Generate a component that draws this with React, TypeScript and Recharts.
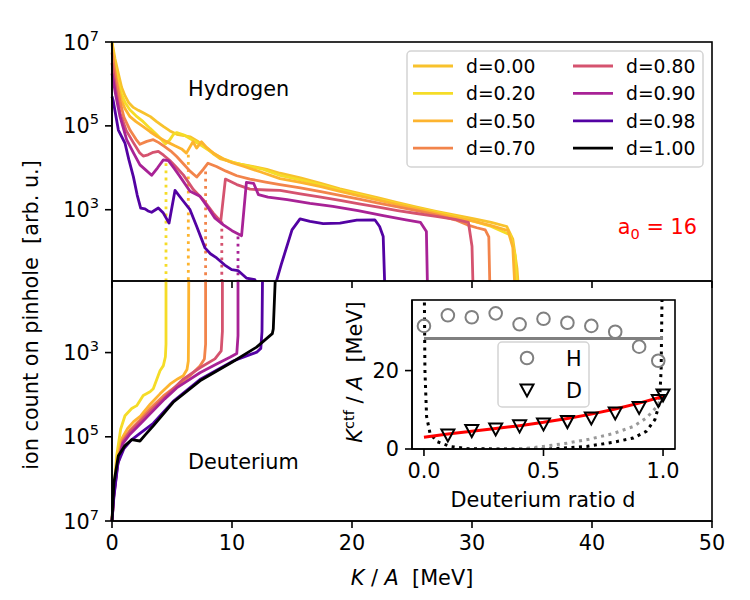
import React from 'react';
import { LineChart, Line, XAxis, YAxis, ComposedChart, Scatter } from 'recharts';

type Pt = [number, number];

// deuterium ratio of each run
const ratioLabels = ['d=0.00', 'd=0.20', 'd=0.50', 'd=0.70', 'd=0.80', 'd=0.90', 'd=0.98', 'd=1.00'];
const ratioColors = ['#f8c22c', '#f5dc27', '#fdb42f', '#f2844b', '#d5536f', '#a82296', '#5302a3', '#000000'];

const kTicks = [0, 10, 20, 30, 40, 50];
const logTicks = [3, 5, 7];

// hydrogen spectra: [K/A in MeV, log10 of ion count]
const hD000: Pt[] = [[0, 7.0], [0.25, 6.6], [0.53, 6.25], [0.8, 5.92], [1.08, 5.72], [1.4, 5.55], [1.78, 5.44], [2.2, 5.37], [2.6, 5.31], [3.2, 5.22], [3.72, 5.1], [4.3, 4.98], [4.83, 4.88], [5.4, 4.8], [6.0, 4.77], [6.5, 4.74], [7.2, 4.62], [7.9, 4.47], [8.5, 4.32], [9.0, 4.22], [9.8, 4.15], [10.7, 4.09], [11.8, 4.03], [12.9, 3.96], [14, 3.87], [15.7, 3.76], [17.4, 3.63], [19, 3.5], [20.6, 3.39], [22.2, 3.28], [23.8, 3.17], [25.4, 3.06], [27, 2.96], [28.6, 2.87], [30.2, 2.78], [31.6, 2.7], [32.9, 2.6], [33.4, 2.3], [33.75, 1.6], [33.9, 1.0]];
const hD020: Pt[] = [[0, 7.0], [0.2, 6.5], [0.5, 6.05], [0.8, 5.75], [1.1, 5.55], [1.5, 5.38], [2.0, 5.24], [2.6, 5.1], [3.17, 4.94], [3.7, 4.8], [4.1, 4.68], [4.45, 4.57], [4.8, 4.66], [5.1, 4.79], [5.4, 4.84], [6.0, 4.78], [6.6, 4.68], [7.3, 4.56], [8.0, 4.43], [8.7, 4.3], [9.4, 4.2], [10.2, 4.12], [11.2, 4.05], [12.5, 3.97], [14, 3.82], [15.7, 3.71], [17.4, 3.59], [19, 3.47], [20.6, 3.36], [22.2, 3.25], [23.8, 3.14], [25.4, 3.04], [27, 2.94], [28.6, 2.84], [30.2, 2.72], [31.6, 2.6], [33.2, 2.4], [33.6, 1.9], [33.75, 1.0]];
const hD050: Pt[] = [[0, 6.95], [0.2, 6.4], [0.5, 5.95], [0.8, 5.6], [1.1, 5.4], [1.5, 5.22], [2.0, 5.1], [2.6, 4.98], [3.17, 4.86], [3.8, 4.74], [4.5, 4.63], [5.2, 4.53], [5.8, 4.45], [6.2, 4.35], [6.5, 4.5], [6.75, 4.62], [7.05, 4.47], [7.45, 4.62], [7.9, 4.48], [8.5, 4.34], [9.2, 4.22], [10, 4.12], [11, 4.03], [12.4, 3.9], [14, 3.74], [15.7, 3.65], [17.4, 3.55], [19, 3.44], [20.6, 3.33], [22.2, 3.23], [23.8, 3.12], [25.4, 3.02], [27, 2.92], [28.6, 2.82], [30.2, 2.72], [31.6, 2.62], [33.0, 2.5], [33.4, 2.1], [33.6, 1.0]];
const hD070: Pt[] = [[0, 6.75], [0.3, 6.15], [0.67, 5.58], [1.0, 5.2], [1.5, 4.9], [2.0, 4.68], [2.33, 4.56], [2.9, 4.63], [3.44, 4.67], [3.9, 4.6], [4.42, 4.5], [4.9, 4.4], [5.39, 4.27], [6.0, 4.08], [6.5, 3.92], [7.06, 3.78], [7.6, 3.96], [8.0, 4.11], [8.7, 4.03], [9.5, 3.92], [10.4, 3.81], [11.5, 3.73], [12.8, 3.66], [14, 3.6], [15.7, 3.52], [17.4, 3.43], [19, 3.34], [20.6, 3.25], [22.2, 3.16], [23.8, 3.07], [25.4, 2.98], [27, 2.88], [28.6, 2.76], [29.6, 2.64], [30.4, 2.57], [31.1, 2.52], [31.4, 2.35], [31.5, 1.0]];
const hD080: Pt[] = [[0, 6.5], [0.3, 5.9], [0.67, 5.3], [1.2, 4.88], [1.78, 4.6], [2.3, 4.36], [2.6, 4.28], [3.0, 4.31], [3.44, 4.37], [3.86, 4.39], [4.3, 4.3], [4.8, 4.18], [5.4, 4.0], [5.94, 3.83], [6.4, 3.64], [6.78, 3.48], [7.6, 3.24], [8.44, 2.92], [9.06, 2.72], [9.45, 3.73], [10.4, 3.6], [11.5, 3.49], [12.9, 3.47], [14, 3.46], [15.7, 3.38], [17.4, 3.3], [19, 3.22], [20.6, 3.14], [22.2, 3.06], [23.8, 2.98], [25.4, 2.91], [27, 2.84], [28.6, 2.77], [29.7, 2.7], [30.0, 2.13], [30.1, 1.0]];
const hD090: Pt[] = [[0, 6.25], [0.3, 5.75], [0.67, 5.22], [1.22, 4.67], [1.8, 4.35], [2.33, 4.07], [2.8, 3.95], [3.3, 3.82], [3.8, 4.0], [4.28, 4.19], [4.7, 4.17], [5.2, 3.98], [5.67, 3.79], [6.5, 3.44], [7.33, 3.32], [8.0, 3.05], [8.58, 2.8], [9.28, 2.64], [10, 2.5], [10.8, 2.38], [11.2, 3.65], [11.8, 3.63], [12.2, 3.36], [13, 3.3], [14.6, 3.24], [16.5, 3.15], [18.4, 3.08], [20.5, 2.98], [22.6, 2.86], [24.5, 2.76], [25.7, 2.7], [26.2, 2.48], [26.3, 1.0]];
const hD098: Pt[] = [[0, 5.7], [0.1, 5.6], [0.53, 4.9], [1.08, 4.59], [1.4, 4.2], [1.78, 3.79], [2.1, 3.35], [2.39, 3.04], [2.75, 3.02], [3.0, 2.97], [3.3, 2.94], [3.86, 3.04], [4.28, 2.92], [4.75, 2.68], [5.25, 3.46], [5.9, 3.22], [6.5, 3.0], [7.06, 2.6], [7.75, 2.09], [8.2, 1.95], [8.72, 1.85], [9.4, 1.68], [9.97, 1.57], [10.5, 1.55], [11.2, 1.37], [11.9, 1.33], [12.5, 1.0], [13.4, 1.0], [14.1, 1.69], [15, 2.52], [15.67, 2.78], [16.5, 2.72], [17.6, 2.67], [19, 2.68], [20.4, 2.75], [21.9, 2.76], [22.3, 2.6], [22.6, 2.36], [22.75, 1.0]];

// deuterium spectra: [K/A in MeV, log10 of ion count]
const dD020: Pt[] = [[0, 7], [0.11, 6.4], [0.39, 5.45], [0.72, 4.82], [1.08, 4.5], [1.64, 4.33], [2.06, 4.26], [2.6, 4.02], [3.17, 3.93], [3.44, 3.86], [4.0, 3.43], [4.28, 3.31], [4.45, 3.1], [4.5, 2.8], [4.5, 1.0]];
const dD050: Pt[] = [[0, 7], [0.15, 6.3], [0.4, 5.6], [0.8, 5.05], [1.3, 4.8], [1.8, 4.64], [2.4, 4.5], [3.2, 4.22], [4.0, 3.98], [4.83, 3.75], [5.5, 3.62], [5.94, 3.55], [6.25, 3.4], [6.36, 3.2], [6.38, 2.6], [6.4, 1.0]];
const dD070: Pt[] = [[0, 7], [0.15, 6.35], [0.45, 5.62], [0.9, 5.08], [1.5, 4.84], [2.33, 4.6], [3.2, 4.32], [4.28, 4.03], [5.39, 3.79], [6.5, 3.55], [7.33, 3.32], [7.7, 3.15], [7.8, 2.8], [7.8, 1.0]];
const dD080: Pt[] = [[0, 7], [0.15, 6.38], [0.45, 5.66], [0.9, 5.12], [1.5, 4.88], [2.33, 4.64], [3.3, 4.36], [4.4, 4.06], [5.94, 3.63], [7.33, 3.36], [8.58, 3.15], [9.1, 2.96], [9.2, 2.5], [9.2, 1.0]];
const dD090: Pt[] = [[0, 7], [0.15, 6.42], [0.45, 5.7], [0.9, 5.16], [1.5, 4.94], [2.33, 4.7], [3.3, 4.42], [4.4, 4.1], [5.39, 3.84], [7.33, 3.48], [8.72, 3.27], [9.83, 3.11], [10.4, 3.02], [10.5, 2.6], [10.5, 1.0]];
const dD098: Pt[] = [[0, 7], [0.15, 6.45], [0.5, 5.62], [1.0, 5.28], [1.6, 5.08], [2.33, 4.92], [3.44, 4.68], [5.1, 4.16], [7.33, 3.64], [10.1, 3.2], [11.5, 3.05], [12.06, 2.99], [12.4, 2.9], [12.5, 2.5], [12.55, 1.0]];
const dD100: Pt[] = [[0, 7], [0.16, 6.09], [0.53, 5.45], [1.08, 5.21], [1.64, 5.07], [2.33, 5.1], [2.75, 4.96], [3.44, 4.74], [5.1, 4.18], [7.33, 3.67], [10.1, 3.21], [12.05, 2.87], [13.36, 2.55], [13.44, 2.44], [13.6, 1.3], [13.62, 1.0]];

// dotted markers of the D cutoff, drawn down from the H curve (d=0.2 .. 0.9)
const cutoffK = [4.5, 6.36, 7.8, 9.15, 10.5];
const cutoffTop = [4.11, 4.31, 3.91, 2.72, 2.36];

// inset: cutoff energy vs deuterium ratio
const ratioH = [0, 0.1, 0.2, 0.3, 0.4, 0.5, 0.6, 0.7, 0.8, 0.9, 0.98];
const kctfH = [31.4, 34.1, 33.6, 34.6, 31.8, 33.2, 32.2, 31.4, 29.9, 26.1, 22.5];
const ratioD = [0.1, 0.2, 0.3, 0.4, 0.5, 0.6, 0.7, 0.8, 0.9, 0.98, 1.0];
const kctfD = [3.6, 4.7, 5.1, 5.9, 6.4, 7.0, 7.9, 9.2, 10.6, 12.4, 13.8];
const hMean: Pt[] = [[0, 28.2], [1, 28.2]];
const fitRatio = [0, 0.1, 0.2, 0.3, 0.4, 0.5, 0.6, 0.7, 0.8, 0.9, 1.0];
const fitD = [3.0, 3.8, 4.5, 5.2, 5.95, 6.8, 7.8, 8.9, 10.2, 11.7, 13.4];
const modelBlack: Pt[] = [[0.001, 45], [0.004, 20.2], [0.011, 8.3], [0.025, 4.1], [0.053, 1.93], [0.109, 0.66], [0.18, 0.1], [0.32, 0], [0.527, 0], [0.68, 0.66], [0.79, 1.7], [0.876, 2.8], [0.93, 4.5], [0.966, 7.5], [0.985, 11.7], [0.992, 20.2], [0.997, 45]];
const modelGray: Pt[] = [[0.4, 0], [0.5, 0.66], [0.6, 1.5], [0.69, 2.5], [0.79, 3.9], [0.876, 5.75], [0.93, 7.9], [0.974, 10.8], [1.0, 13.8]];

const FONT = '"DejaVu Sans", sans-serif';
const FS = 20.8;

const rows = (p: Pt[]) => p.map(([x, y]) => ({ x, y }));
const zipRows = (xs: number[], ys: number[]) => xs.map((x, i) => ({ x, y: ys[i] }));

const hydrogen = [hD000, hD020, hD050, hD070, hD080, hD090, hD098];
const deuterium = [dD020, dD050, dD070, dD080, dD090, dD098, dD100];

const axisStyle = { stroke: '#000', strokeWidth: 1.6 };

function ExpTick(props: any) {
  const { x, y, payload } = props;
  return (
    <text x={x} y={y + 7.5} textAnchor="end" fontSize={FS} fontFamily={FONT} fill="#000">
      10<tspan dy={-9} fontSize={14.6}>{payload.value}</tspan>
    </text>
  );
}

const ring = (p: any) => (
  <circle cx={p.cx} cy={p.cy} r={6.3} fill="none" stroke="#808080" strokeWidth={2} />
);
const tri = (p: any) => (
  <path d={`M${p.cx - 6.5},${p.cy - 5.5}L${p.cx + 6.5},${p.cy - 5.5}L${p.cx},${p.cy + 6.5}Z`} fill="none" stroke="#000" strokeWidth={2} />
);

const abs: React.CSSProperties = { position: 'absolute', left: 0, top: 0 };

export default function App() {
  return (
    <div style={{ position: 'absolute', left: 0, top: 0, width: 750, height: 600, background: '#fff', fontFamily: FONT }}>
      {/* top panel: hydrogen */}
      <div style={abs}>
        <LineChart width={750} height={600} margin={{ top: 42, right: 38, left: 52, bottom: 289 }}>
          <XAxis type="number" dataKey="x" domain={[0, 50]} ticks={kTicks} interval={0} height={30} tickSize={7}
            tickFormatter={() => ''} axisLine={axisStyle} tickLine={axisStyle} />
          <YAxis type="number" domain={[1.3, 7]} allowDataOverflow ticks={logTicks} interval={0} width={60} tickSize={7}
            tickMargin={6} tick={(p: any) => <ExpTick {...p} />} axisLine={axisStyle} tickLine={axisStyle} />
          {cutoffK.map((k, i) => (
            <Line key={'c' + i} data={rows([[k, cutoffTop[i]], [k, 1.0]])} dataKey="y" stroke={ratioColors[i + 1]}
              strokeWidth={2.8} strokeDasharray="2.8 4.4" dot={false} isAnimationActive={false} />
          ))}
          {hydrogen.map((s, i) => (
            <Line key={'h' + i} data={rows(s)} dataKey="y" stroke={ratioColors[i]} strokeWidth={2.8}
              dot={false} isAnimationActive={false} strokeLinejoin="round" />
          ))}
        </LineChart>
      </div>

      {/* bottom panel: deuterium (reversed) */}
      <div style={abs}>
        <LineChart width={750} height={600} margin={{ top: 281, right: 38, left: 52, bottom: 49 }}>
          <XAxis type="number" dataKey="x" domain={[0, 50]} ticks={kTicks} interval={0} height={30} tickSize={7}
            tickMargin={7} tick={{ fontSize: FS, fill: '#000', fontFamily: FONT }} axisLine={axisStyle} tickLine={axisStyle} />
          <YAxis type="number" domain={[1.3, 7]} reversed allowDataOverflow ticks={logTicks} interval={0} width={60}
            tickSize={7} tickMargin={6} tick={(p: any) => <ExpTick {...p} />} axisLine={axisStyle} tickLine={axisStyle} />
          {deuterium.map((s, i) => (
            <Line key={'d' + i} data={rows(s)} dataKey="y" stroke={ratioColors[i + 1]} strokeWidth={2.8}
              dot={false} isAnimationActive={false} strokeLinejoin="round" />
          ))}
        </LineChart>
      </div>

      {/* frame, labels, legend */}
      <svg width={750} height={600} style={abs} fontFamily={FONT}>
        <rect x={112} y={42} width={600} height={479} fill="none" stroke="#000" strokeWidth={1.6} />
        <line x1={112} x2={712} y1={281} y2={281} stroke="#000" strokeWidth={1.6} />
        <text x={188} y={96} fontSize={FS}>Hydrogen</text>
        <text x={188} y={469} fontSize={FS}>Deuterium</text>
        <text x={697} y={234} fontSize={FS} fill="#ff0000" textAnchor="end" style={{ whiteSpace: 'pre' }}>
          a<tspan dy={4.5} fontSize={14.6}>0</tspan><tspan dy={-4.5}> = 16</tspan>
        </text>
        <text x={412} y={585} fontSize={FS} textAnchor="middle" style={{ whiteSpace: 'pre' }}>
          <tspan fontStyle="italic">K</tspan> / <tspan fontStyle="italic">A</tspan>  [MeV]
        </text>
        <text x={38} y={315} fontSize={FS} textAnchor="middle" transform="rotate(-90 38 315)" style={{ whiteSpace: 'pre' }}>
          ion count on pinhole  [arb. u.]
        </text>
        <rect x={407} y={51} width={296} height={116} rx={4} fill="#fff" fillOpacity={0.8} stroke="#d4d4d4" strokeWidth={1.5} />
        {ratioLabels.map((lab, i) => {
          const x0 = i < 4 ? 413 : 573;
          const y = 66 + (i % 4) * 27.4;
          return (
            <g key={lab}>
              <line x1={x0} x2={x0 + 40} y1={y} y2={y} stroke={ratioColors[i]} strokeWidth={2.8} />
              <text x={x0 + 53} y={y + 6.8} fontSize={18.75}>{lab}</text>
            </g>
          );
        })}
      </svg>

      {/* inset */}
      <div style={{ position: 'absolute', left: 412, top: 300, width: 263, height: 149, background: '#fff' }} />
      <div style={abs}>
        <ComposedChart width={750} height={600} margin={{ top: 300, right: 75, left: 372, bottom: 121 }}>
          <XAxis type="number" dataKey="x" domain={[-0.05, 1.05]} allowDataOverflow ticks={[0, 0.5, 1]} interval={0}
            tickFormatter={(v: number) => v.toFixed(1)} height={30} tickSize={7} tickMargin={7}
            tick={{ fontSize: FS, fill: '#000', fontFamily: FONT }} axisLine={axisStyle} tickLine={axisStyle} />
          <YAxis type="number" dataKey="y" domain={[0, 38]} allowDataOverflow ticks={[0, 20]} interval={0} width={40}
            tickSize={7} tickMargin={6} tick={{ fontSize: FS, fill: '#000', fontFamily: FONT }} axisLine={axisStyle} tickLine={axisStyle} />
          <Line data={rows(modelBlack)} dataKey="y" stroke="#000" strokeWidth={3} strokeDasharray="3 4.5" dot={false} isAnimationActive={false} />
          <Line data={rows(modelGray)} dataKey="y" stroke="#999" strokeWidth={3} strokeDasharray="3 4.5" dot={false} isAnimationActive={false} />
          <Line data={zipRows(fitRatio, fitD)} dataKey="y" stroke="#ff0000" strokeWidth={3} dot={false} isAnimationActive={false} />
          <Line data={rows(hMean)} dataKey="y" stroke="#808080" strokeWidth={3} dot={false} isAnimationActive={false} />
          <Scatter data={zipRows(ratioH, kctfH)} shape={ring} isAnimationActive={false} />
          <Scatter data={zipRows(ratioD, kctfD)} shape={tri} isAnimationActive={false} />
        </ComposedChart>
      </div>
      <svg width={750} height={600} style={abs} fontFamily={FONT}>
        <rect x={412} y={300} width={263} height={149} fill="none" stroke="#000" strokeWidth={1.6} />
        <text x={543} y={507} fontSize={FS} textAnchor="middle">Deuterium ratio d</text>
        <text x={362} y={372} fontSize={FS} textAnchor="middle" transform="rotate(-90 362 372)" style={{ whiteSpace: 'pre' }}>
          <tspan fontStyle="italic">K</tspan><tspan dy={-8} fontSize={14.6}>ctf</tspan><tspan dy={8}> / </tspan><tspan fontStyle="italic">A</tspan>  [MeV]
        </text>
        <rect x={498} y={342} width={91} height={65} rx={4} fill="#fff" fillOpacity={0.8} stroke="#d4d4d4" strokeWidth={1.5} />
        <circle cx={527} cy={358} r={6.3} fill="none" stroke="#808080" strokeWidth={2} />
        <text x={566} y={365.6} fontSize={FS}>H</text>
        <path d="M520.5,384.5L533.5,384.5L527,396.5Z" fill="none" stroke="#000" strokeWidth={2} />
        <text x={566} y={397.6} fontSize={FS}>D</text>
      </svg>
    </div>
  );
}
